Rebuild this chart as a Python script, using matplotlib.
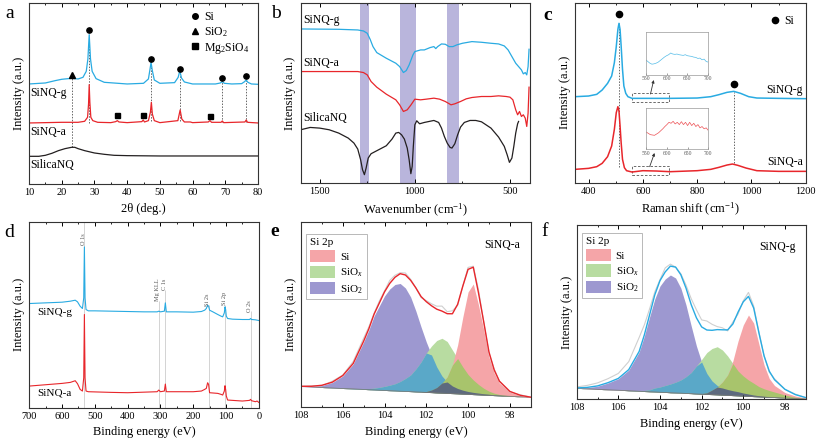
import numpy as np
import matplotlib.pyplot as plt
from matplotlib.lines import Line2D
from matplotlib.patches import Patch, Rectangle
from matplotlib.ticker import MultipleLocator

plt.rcParams['font.family'] = ['Liberation Serif', 'DejaVu Serif']
plt.rcParams['mathtext.fontset'] = 'custom'
plt.rcParams['mathtext.rm'] = 'Liberation Serif'
plt.rcParams['mathtext.it'] = 'Liberation Serif:italic'

BLUE = '#29abe2'
RED = '#e8262b'
BLACK = '#231f20'

# ---------------- (a) XRD ----------------
xrd_g_x = [10, 15, 18, 20, 23, 25, 26.5, 27.5, 28.0, 28.4, 28.8, 29.3, 30.5, 33, 40, 45, 46.5, 47.0,
           47.3, 47.7, 48.3, 50, 54.5, 55.6, 56.1, 56.6, 57.5, 60, 67, 68.5, 69.1, 69.7, 72, 75,
           75.9, 76.4, 76.9, 78, 80]
xrd_g = [300, 303, 310, 314, 317, 315, 320, 338, 375, 448, 375, 338, 316, 305, 300, 302, 315, 345,
         365, 340, 312, 302, 304, 320, 340, 318, 306, 300, 300, 303, 307, 302, 300, 301,
         307, 312, 305, 300, 299]
xrd_a_x = [10, 20, 25, 27, 27.9, 28.2, 28.4, 28.6, 28.9, 29.5, 31, 35, 36.5, 37, 37.5, 40, 44.5, 44.9,
           45.3, 46.5, 47.1, 47.4, 47.7, 48.3, 50, 55.5, 56.2, 56.7, 57.5, 59.3, 60, 64.8, 65.3,
           65.8, 68.7, 69.1, 69.5, 76, 76.4, 76.8, 80]
xrd_a = [183, 185, 185, 188, 200, 240, 298, 245, 200, 190, 185, 184, 187, 190, 186, 184, 187, 192,
         186, 190, 215, 245, 210, 190, 184, 190, 222, 195, 186, 186, 184, 186, 190,
         185, 185, 189, 184, 186, 192, 185, 183]
xrd_s_x = [10, 13, 15, 17, 19, 21, 23, 24, 25, 27, 30, 33, 36, 40, 50, 60, 70, 80]
xrd_s = [83, 83, 86, 92, 100, 106, 110, 110, 106, 100, 93, 89, 86, 85, 84, 84, 84, 84]
a_ref_x = [23, 28.4, 47.3, 56.1, 69.1, 76.4]
a_ref_lo = [110, 183, 188, 188, 186, 186]
a_ref_hi = [318, 448, 365, 340, 313, 313]
a_si_x = [28.4, 47.3, 56.1, 69.1, 76.4]
a_si_y = [461, 375, 346, 317, 323]
a_sio2_x = [23]
a_sio2_y = [328]
a_mg_x = [37, 44.8, 65.3]
a_mg_y = [208, 208, 205]

# ---------------- (b) FTIR ----------------
ftir_g_x = [1600, 1400, 1300, 1270, 1250, 1235, 1220, 1200, 1150, 1100, 1080, 1060, 1045, 1030, 1010,
            1000, 970, 950, 920, 900, 890, 880, 860, 840, 820, 800, 780, 750, 700, 650, 600, 560,
            530, 510, 490, 470, 455, 440, 430, 420, 412, 405, 400]
ftir_g = [463, 462, 460, 457, 450, 432, 410, 392, 375, 360, 350, 332, 338, 355, 385,
          395, 400, 400, 407, 410, 404, 410, 418, 417, 410, 410, 415, 420, 425, 423, 420, 418,
          412, 400, 380, 360, 350, 340, 328, 332, 325, 350, 402]
ftir_a_x = [1600, 1300, 1270, 1250, 1230, 1200, 1150, 1100, 1080, 1060, 1040, 1020, 1000, 970, 940,
            900, 870, 840, 810, 790, 760, 730, 700, 650, 600, 560, 520, 500, 485, 470, 460, 450,
            440, 430, 420, 412, 405, 400]
ftir_a = [335, 335, 332, 325, 305, 288, 267, 250, 235, 215, 220, 235, 252, 250, 252,
          255, 252, 245, 235, 238, 245, 253, 257, 260, 260, 262, 260, 258, 250, 220, 205, 215,
          200, 205, 195, 170, 210, 288]
ftir_s_x = [1600, 1550, 1500, 1450, 1400, 1350, 1320, 1300, 1285, 1275, 1265, 1256, 1245, 1230, 1200,
            1150, 1120, 1100, 1085, 1070, 1055, 1040, 1030, 1021, 1014, 1008, 1000, 990, 975, 950,
            900, 875, 860, 845, 830, 815, 805, 790, 775, 760, 740, 710, 680, 650, 600, 560, 530,
            515, 503, 490, 480, 470, 460, 455]
ftir_s = [160, 167, 165, 160, 150, 135, 120, 102, 70, 40, 25, 45, 75, 88, 97,
          112, 132, 150, 152, 145, 132, 105, 70, 28, 50, 110, 175, 187, 178, 182,
          188, 182, 165, 140, 120, 107, 105, 118, 145, 168, 182, 188, 188, 184, 165, 138, 110,
          85, 62, 75, 110, 150, 178, 185]
b_band_lo = [1241, 993, 766]
b_band_hi = [1287, 1080, 829]

# ---------------- (c) Raman ----------------
ram_g_x = [350, 400, 430, 450, 470, 485, 495, 502, 508, 512, 516, 520, 525, 530, 537, 545, 560, 600,
           700, 800, 850, 880, 910, 935, 960, 990, 1020, 1100, 1200]
ram_g = [258, 260, 265, 278, 298, 320, 360, 408, 460, 478, 460, 410, 340, 290, 268, 258, 253, 253,
         253, 254, 258, 264, 271, 274, 268, 258, 254, 253, 252]
ram_a_x = [350, 400, 430, 450, 470, 485, 495, 502, 508, 512, 516, 520, 525, 532, 540, 560, 600, 650,
           700, 800, 850, 880, 910, 930, 950, 980, 1020, 1100, 1200]
ram_a = [40, 43, 48, 58, 78, 110, 160, 210, 228, 215, 170, 120, 70, 45, 36, 32, 36, 35,
         33, 36, 40, 46, 53, 56, 52, 44, 36, 34, 34]
c_ref_x = [512, 935]
c_ref_lo = [48, 58]
c_ref_hi = [478, 273]
c_si_x = [512, 935]
c_si_y = [505, 296]
c_box_x0 = [560, 560]
c_box_y0 = [243, 23]
c_box_h = [25, 27]
c_arrow_from = [(628, 266), (625, 48)]
c_arrow_to = [(640, 308), (643, 89)]
ins_x = [550, 555, 560, 565, 570, 575, 580, 585, 590, 595, 600, 605, 610, 615, 620, 625, 630, 635,
         640, 645, 650, 655, 660, 665, 670, 675, 680, 685, 690, 695, 700]
ins_g = [45, 40, 35, 32, 33, 35, 38, 43, 48, 53, 57, 60, 65, 62, 61, 62, 60, 59,
         58, 60, 57, 56, 55, 53, 52, 49, 50, 45, 47, 40, 38]
ins_a = [53, 49, 45, 44, 43, 47, 51, 57, 63, 70, 76, 83, 80, 86, 78, 83, 76, 85,
         76, 83, 73, 83, 73, 80, 70, 76, 66, 70, 63, 66, 58]

# ---------------- (d) XPS survey ----------------
xps_g_x = [700, 650, 600, 575, 560, 553, 545, 538, 534, 532, 530, 527, 520, 500, 450, 400, 350, 310,
           305, 300, 288, 285, 282, 250, 200, 175, 165, 160, 156, 153, 150, 140, 125, 115, 110, 105,
           103, 101, 99, 95, 80, 50, 28, 25, 22, 10, 0]
xps_g = [313, 315, 317, 320, 323, 318, 305, 298, 330, 483, 330, 295, 291, 291, 290, 289, 288, 288,
         290, 288, 290, 315, 288, 288, 287, 289, 293, 298, 308, 305, 293, 288, 280, 275, 273, 285,
         303, 295, 275, 268, 266, 265, 265, 268, 265, 264, 262]
xps_a_x = [700, 650, 600, 575, 560, 553, 545, 538, 534, 532, 530, 527, 520, 450, 400, 310, 305, 300,
           288, 285, 282, 200, 175, 165, 160, 156, 153, 150, 125, 115, 110, 105, 103, 101, 99, 95,
           50, 28, 25, 22, 10, 5, 0]
xps_a = [65, 69, 73, 76, 81, 72, 55, 50, 90, 280, 90, 50, 48, 46, 45, 48, 53, 48,
         50, 71, 48, 48, 50, 55, 58, 75, 70, 45, 43, 40, 38, 50, 66, 55, 35, 23,
         20, 22, 25, 21, 18, 20, 16]
d_peak_names = ['O 1s', 'Mg KLL', 'C 1s', 'Si 2s', 'Si 2p', 'O 2s']
d_peak_pos = [532, 305, 285, 153, 102, 24]
d_label_y = [505, 355, 371, 325, 328, 305]
d_line_top = [558, 320, 355, 310, 310, 290]

# ---------------- (e, f) Si 2p fits ----------------
be_x = [108, 107.5, 107, 106.5, 106, 105.5, 105, 104.75, 104.5, 104.25, 104, 103.75, 103.5, 103.25,
        103, 102.75, 102.5, 102.25, 102, 101.75, 101.5, 101.25, 101, 100.75, 100.5, 100.25, 100,
        99.75, 99.5, 99.25, 99, 98.75, 98.5, 98, 97.5, 97]
base_e = [20.5, 20.0, 19.5, 19.0, 18.5, 18.1, 17.6, 17.3, 17.1, 16.8, 16.6, 16.3, 16.1, 15.8,
          15.6, 15.4, 15.1, 14.9, 14.6, 14.4, 14.1, 13.9, 13.6, 13.4, 13.2, 12.9, 12.7,
          12.4, 12.2, 11.9, 11.7, 11.4, 11.2, 10.7, 10.2, 9.7]
sio2_e = [20.6, 20.6, 21.5, 24.5, 31, 43, 65, 77, 91, 101, 111, 118, 122.5, 123.5,
          119, 110, 96, 80, 65, 52, 40, 31, 25, 21, 18.5, 16.8, 15.5,
          14.6, 13.9, 13.2, 12.7, 12.1, 11.7, 10.9, 10.3, 9.7]
siox_e = [20.5, 20.0, 19.6, 19.2, 18.8, 18.5, 18.3, 18.4, 18.8, 19.6, 20.6, 21.8, 23.2, 25.5,
          28.5, 32, 38, 45, 54, 61, 66.5, 68.7, 65.5, 57, 48.5, 40, 32.5,
          27, 22.5, 18.7, 15.8, 13.8, 12.5, 11.1, 10.3, 9.7]
si_e = [20.6, 20.1, 19.6, 19.1, 18.6, 18.2, 17.7, 17.4, 17.2, 16.9, 16.7, 16.4, 16.2, 15.9,
        15.7, 15.5, 15.3, 15.2, 15.5, 17, 19.5, 24, 30, 42, 62, 90, 115,
        123, 102, 77, 50, 34, 24, 15, 11.5, 9.8]
raw_e_dev = [0, 0.5, -0.5, 1, 0.5, 2, 3, 2, 1, 2, 1, 3, 2, 1, 2, 1, 0, -1, 1, 2, 3, 5, 2, 3,
             -1, 0, 2, 1, 3, 0, -1, 1, 0, -0.5, 0.5, 0]
base_f = [10.7, 10.2, 9.7, 9.2, 8.8, 8.3, 7.8, 7.5, 7.3, 7.1, 6.8, 6.6, 6.3, 6.1,
          5.9, 5.6, 5.4, 5.1, 4.9, 4.6, 4.4, 4.2, 3.9, 3.7, 3.4, 3.2, 2.9,
          2.7, 2.4, 2.2, 1.9, 1.7, 1.5, 1.0, 0.5, 0.0]
sio2_f = [10.8, 11.3, 12.8, 16, 20.3, 29, 47, 63, 82, 100, 113, 120, 124, 121,
          111, 94, 73, 53, 37, 25.5, 18, 13.5, 11, 9.5, 8.3, 7.3, 6,
          5, 4, 3.3, 2.7, 2.2, 1.8, 1.2, 0.6, 0]
siox_f = [10.8, 10.3, 9.8, 9.3, 8.9, 8.5, 8.2, 8.5, 9.2, 11, 12, 13.5, 15, 16.8,
          19, 22.3, 26.5, 33, 39.5, 46.5, 50.5, 52.3, 49, 43, 35.5, 28, 23,
          19, 15.8, 12.4, 10.2, 8.5, 7.0, 4, 1.8, 0.4]
si_f = [10.9, 10.4, 9.9, 9.4, 9.0, 8.5, 8.0, 7.7, 7.5, 7.3, 7.0, 6.8, 6.5, 6.3,
        6.1, 5.8, 5.6, 5.4, 5.4, 6.2, 9, 12, 17, 24, 38, 58, 74,
        84, 76, 55, 34, 20.5, 13.5, 6.5, 3, 1]
raw_f_dev = [1, 2, 3, 4, 5, 8, 14, 10, 6, 3, 1, 4, 2, 0, 1, 3, 6, 8, 7, 9, 6, 3, 2, -1,
             2, -2, 1, 4, 2, 1, 0, -1, 1, 0, 0.5, 0]
fit_names = ['Si', 'SiO$_x$', 'SiO$_2$']
C_SI = '#f5a5a8'
C_SIOX = '#b8dca1'
C_SIO2 = '#9d98d0'
C_TEAL = '#5aa8c8'
C_OLIVE = '#a8c46c'
C_DARK = '#5d6a7e'


def style(ax, xlim, ylim, major, minor):
    ax.set_xlim(*xlim)
    ax.set_ylim(*ylim)
    ax.xaxis.set_major_locator(MultipleLocator(major))
    ax.xaxis.set_minor_locator(MultipleLocator(minor))
    ax.tick_params(axis='x', which='both', direction='in', top=True, labelsize=7.5, pad=3)
    ax.tick_params(axis='x', which='major', length=3, width=0.7)
    ax.tick_params(axis='x', which='minor', length=1.6, width=0.6)
    ax.tick_params(axis='y', left=False, labelleft=False)
    for s in ax.spines.values():
        s.set_linewidth(0.8)
        s.set_color('#333333')
    ax.set_ylabel('Intensity (a.u.)', fontsize=9, labelpad=3)


fig = plt.figure(figsize=(8.17, 4.43), dpi=100)

# (a)
ax = fig.add_axes([0.0355, 0.5847, 0.2803, 0.4086])
style(ax, (10, 80), (0, 543), 10, 5)
ax.vlines(a_ref_x, a_ref_lo, a_ref_hi, colors='#666666', linestyles=(0, (1.5, 1.5)), lw=0.7)
ax.plot(xrd_s_x, xrd_s, color=BLACK, lw=0.9)
ax.plot(xrd_a_x, xrd_a, color=RED, lw=0.9)
ax.plot(xrd_g_x, xrd_g, color=BLUE, lw=0.9)
ax.plot(a_si_x, a_si_y, 'o', color='black', ms=3.8)
ax.plot(a_sio2_x, a_sio2_y, '^', color='black', ms=3.8)
ax.plot(a_mg_x, a_mg_y, 's', color='black', ms=3.6)
ax.text(10.4, 273, 'SiNQ-g', fontsize=8.5, va='center')
ax.text(10.4, 155, 'SiNQ-a', fontsize=8.5, va='center')
ax.text(10.4, 56, 'SilicaNQ', fontsize=8.5, va='center')
handles = [Line2D([], [], marker='o', ls='none', color='black', ms=4),
           Line2D([], [], marker='^', ls='none', color='black', ms=4),
           Line2D([], [], marker='s', ls='none', color='black', ms=3.8)]
ax.legend(handles, ['Si', 'SiO$_2$', 'Mg$_2$SiO$_4$'], loc='upper right', frameon=False,
          fontsize=8.5, handletextpad=0.2, labelspacing=0.15, borderaxespad=0.3, handlelength=1.2)
ax.set_xlabel('2θ (deg.)', fontsize=9, labelpad=4)

# (b)
ax = fig.add_axes([0.368, 0.5869, 0.2807, 0.4063])
style(ax, (1600, 395), (0, 541), 500, 250)
for lo, hi in zip(b_band_lo, b_band_hi):
    ax.axvspan(lo, hi, color='#b9b5dc', lw=0, zorder=0)
ax.plot(ftir_s_x, ftir_s, color=BLACK, lw=0.9)
ax.plot(ftir_a_x, ftir_a, color=RED, lw=0.9)
ax.plot(ftir_g_x, ftir_g, color=BLUE, lw=0.9)
ax.text(1588, 490, 'SiNQ-g', fontsize=8.5, va='center')
ax.text(1588, 360, 'SiNQ-a', fontsize=8.5, va='center')
ax.text(1588, 195, 'SilicaNQ', fontsize=8.5, va='center')
ax.set_xlabel('Wavenumber (cm$^{-1}$)', fontsize=9, labelpad=4)

# (c)
ax = fig.add_axes([0.7038, 0.5876, 0.2824, 0.4056])
style(ax, (350, 1200), (0, 539), 200, 100)
ax.vlines(c_ref_x, c_ref_lo, c_ref_hi, colors='#666666', linestyles=(0, (1.5, 1.5)), lw=0.7)
ax.plot(ram_a_x, ram_a, color=RED, lw=1.1)
ax.plot(ram_g_x, ram_g, color=BLUE, lw=1.1)
ax.plot(c_si_x, c_si_y, 'o', color='black', ms=4.5)
for x0, y0, h in zip(c_box_x0, c_box_y0, c_box_h):
    ax.add_patch(Rectangle((x0, y0), 135, h, fill=False, ec='#555555', lw=0.6, ls=(0, (3, 2))))
for p0, p1 in zip(c_arrow_from, c_arrow_to):
    ax.annotate('', xy=p1, xytext=p0,
                arrowprops=dict(arrowstyle='-|>', color='#333333', lw=0.6, mutation_scale=4,
                                shrinkA=0, shrinkB=0))
ax.text(1190, 278, 'SiNQ-g', fontsize=8.5, ha='right', va='center')
ax.text(1190, 61, 'SiNQ-a', fontsize=8.5, ha='right', va='center')
ax.legend([Line2D([], [], marker='o', ls='none', color='black', ms=4.5)], ['Si'],
          loc='upper right', frameon=False, fontsize=8.5, handletextpad=0.2,
          borderaxespad=0.6, handlelength=1.2)
ax.set_xlabel('Raman shift (cm$^{-1}$)', fontsize=9, labelpad=4)

for rect, ys, col in [([0.7903, 0.8307, 0.0766, 0.0977], ins_g, BLUE),
                      ([0.7910, 0.6630, 0.0759, 0.0939], ins_a, RED)]:
    axi = fig.add_axes(rect)
    axi.plot(ins_x, ys, color=col, lw=0.5, alpha=0.8)
    axi.set_xlim(550, 700)
    axi.set_ylim(0, 128)
    axi.set_xticks([550, 600, 650, 700])
    axi.set_yticks([])
    axi.tick_params(axis='x', direction='in', labelsize=4, length=1.5, width=0.4, pad=1,
                    colors='#555555')
    for s in axi.spines.values():
        s.set_linewidth(0.5)
        s.set_color('#999999')

# (d)
ax = fig.add_axes([0.0359, 0.0797, 0.2808, 0.4192])
style(ax, (700, 0), (0, 558), 100, 50)
ax.vlines(d_peak_pos, 0, d_line_top, colors='#cccccc', lw=0.6, zorder=0)
for name, x, y in zip(d_peak_names, d_peak_pos, d_label_y):
    ax.text(x + 4, y, name, rotation=90, fontsize=4.5, color='#555555', ha='center', va='center')
ax.plot(xps_a_x, xps_a, color=RED, lw=0.8)
ax.plot(xps_g_x, xps_g, color=BLUE, lw=0.8)
ax.text(677, 285, 'SiNQ-g', fontsize=8, va='center')
ax.text(677, 43, 'SiNQ-a', fontsize=8, va='center')
ax.set_xlabel('Binding energy (eV)', fontsize=9, labelpad=4)


def fit_panel(ax, base, sio2, siox, si, dev, env_color, name, ymax, anchor):
    style(ax, (108, 97), (0, ymax), 2, 1)
    base = np.array(base)
    sio2, siox, si = np.array(sio2), np.array(siox), np.array(si)
    ax.fill_between(be_x, base, sio2, color=C_SIO2, lw=0)
    ax.fill_between(be_x, base, siox, color=C_SIOX, lw=0)
    ax.fill_between(be_x, base, si, color=C_SI, lw=0)
    ax.fill_between(be_x, base, np.minimum(sio2, siox), color=C_TEAL, lw=0)
    ax.fill_between(be_x, base, np.minimum(siox, si), color=C_OLIVE, lw=0)
    ax.fill_between(be_x, base, np.minimum(np.minimum(sio2, siox), si), color=C_DARK, lw=0)
    ax.plot(be_x, base, color='#777777', lw=0.5)
    env = base + (sio2 - base) + (siox - base) + (si - base)
    ax.plot(be_x, env + np.array(dev), color='#cfcfcf', lw=0.8)
    ax.plot(be_x, env, color=env_color, lw=1.0)
    hs = [Patch(fc=C_SI), Patch(fc=C_SIOX), Patch(fc=C_SIO2)]
    leg = ax.legend(hs, fit_names, title='Si 2p', loc='upper left', bbox_to_anchor=anchor,
                    fontsize=8, title_fontsize=8, frameon=True, fancybox=False,
                    edgecolor='#999999', handlelength=2.3, handleheight=1.3,
                    labelspacing=0.3, borderaxespad=0, borderpad=0.35,
                    alignment='left', handletextpad=0.4)
    leg.get_frame().set_linewidth(0.6)
    ax.text(0.955, 0.875, name, transform=ax.transAxes, fontsize=8.5, ha='right', va='center')
    ax.set_xlabel('Binding energy (eV)', fontsize=9, labelpad=4)


ax = fig.add_axes([0.3684, 0.0813, 0.2812, 0.4176])
fit_panel(ax, base_e, sio2_e, siox_e, si_e, raw_e_dev, RED, 'SiNQ-a', 185, (0.022, 0.935))
ax = fig.add_axes([0.7059, 0.0993, 0.2803, 0.3928])
fit_panel(ax, base_f, sio2_f, siox_f, si_f, raw_f_dev, BLUE, 'SiNQ-g', 174, (0.022, 0.955))

for letter, x, y, w in [('a', 10, 13, 'normal'), ('b', 276, 13, 'normal'), ('c', 548, 15, 'bold'),
                        ('d', 9, 233, 'normal'), ('e', 275, 232, 'bold'), ('f', 545, 232, 'normal')]:
    fig.text(x / 817, 1 - y / 443, letter, fontsize=14, fontweight=w, ha='center', va='center')

fig.savefig('out.png', dpi=100)
